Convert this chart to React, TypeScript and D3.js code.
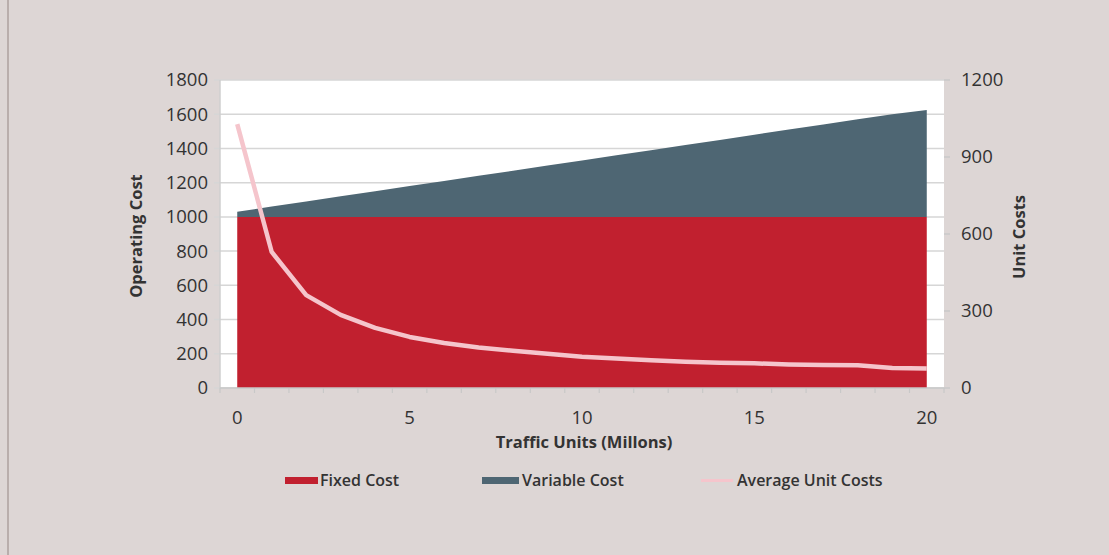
import React from "react";
import * as d3 from "d3";

const trafficUnits = [0, 1, 2, 3, 4, 5, 6, 7, 8, 9, 10, 11, 12, 13, 14, 15, 16, 17, 18, 19, 20];
const fixedCost = [1000, 1000, 1000, 1000, 1000, 1000, 1000, 1000, 1000, 1000, 1000, 1000, 1000, 1000, 1000, 1000, 1000, 1000, 1000, 1000, 1000];
const variableCost = [30, 60, 90, 120, 150, 180, 210, 240, 270, 300, 330, 360, 390, 420, 450, 480, 510, 540, 570, 600, 625];
const averageUnitCost = [1028, 530, 362, 285, 234, 199, 175, 158, 145, 133, 122, 115, 108, 102, 98, 96, 92, 90, 89, 78, 76];
const leftTicks = [0, 200, 400, 600, 800, 1000, 1200, 1400, 1600, 1800];
const rightTicks = [0, 300, 600, 900, 1200];
const xTicks = [0, 5, 10, 15, 20];

const W = 1109;
const H = 555;
const plot = { left: 220, right: 944, top: 80, bottom: 388 };
const FONT = "'Open Sans', 'Noto Sans', sans-serif";
const RED = "#c1202f";
const SLATE = "#4e6673";
const PINK = "#f5c5cc";

export default function App() {
  const x = d3.scaleLinear().domain([-0.5, 20.5]).range([plot.left, plot.right]);
  const yL = d3.scaleLinear().domain([0, 1800]).range([plot.bottom, plot.top]);
  const yR = d3.scaleLinear().domain([0, 1200]).range([plot.bottom, plot.top]);

  const idx = trafficUnits.map((_, i) => i);
  const fixedArea = d3
    .area<number>()
    .x((i) => x(trafficUnits[i]))
    .y0(() => yL(0))
    .y1((i) => yL(fixedCost[i]))(idx) as string;
  const varArea = d3
    .area<number>()
    .x((i) => x(trafficUnits[i]))
    .y0((i) => yL(fixedCost[i]))
    .y1((i) => yL(fixedCost[i] + variableCost[i]))(idx) as string;
  const avgLine = d3
    .line<number>()
    .x((i) => x(trafficUnits[i]))
    .y((i) => yR(averageUnitCost[i]))(idx) as string;

  const boundaries = d3.range(-0.5, 21, 1);
  const textColor = "#333333";

  return (
    <div style={{ position: "fixed", left: 0, top: 0 }}>
      <svg width={W} height={H} style={{ display: "block" }}>
        <rect x={0} y={0} width={W} height={H} fill="#ddd6d5" />
        <rect x={7} y={0} width={2} height={H} fill="#b9aeac" />
        {/* plot background */}
        <rect x={plot.left} y={plot.top} width={plot.right - plot.left} height={plot.bottom - plot.top} fill="#ffffff" />
        {leftTicks.map((t) => (
          <line key={"g" + t} x1={plot.left - 6} x2={plot.right} y1={yL(t)} y2={yL(t)} stroke="#d6d6d6" strokeWidth={1.5} />
        ))}
        {rightTicks.map((t) => (
          <line key={"rt" + t} x1={plot.right} x2={plot.right + 6} y1={yR(t)} y2={yR(t)} stroke="#c8c8c8" strokeWidth={1.5} />
        ))}
        <path d={fixedArea} fill={RED} />
        <path d={varArea} fill={SLATE} />
        <path d={avgLine} fill="none" stroke={PINK} strokeWidth={4.5} strokeLinejoin="round" />
        {/* axes */}
        <line x1={plot.left} x2={plot.left} y1={plot.top} y2={plot.bottom} stroke="#cfcfcf" strokeWidth={1.5} />
        <line x1={plot.left} x2={plot.right} y1={plot.bottom} y2={plot.bottom} stroke="#c8c8c8" strokeWidth={1.5} />
        {boundaries.map((b) => (
          <line key={"xt" + b} x1={x(b)} x2={x(b)} y1={plot.bottom} y2={plot.bottom + 5} stroke="#c8c8c8" strokeWidth={1.2} />
        ))}
        {/* left tick labels */}
        {leftTicks.map((t) => (
          <text key={"lt" + t} x={208} y={yL(t)} dy="0.35em" textAnchor="end" fontFamily={FONT} fontSize={18.5} fill={textColor}>
            {t}
          </text>
        ))}
        {rightTicks.map((t) => (
          <text key={"rl" + t} x={961} y={yR(t)} dy="0.35em" textAnchor="start" fontFamily={FONT} fontSize={18.5} fill={textColor}>
            {t}
          </text>
        ))}
        {xTicks.map((t) => (
          <text key={"xl" + t} x={x(t)} y={418} dy="0.35em" textAnchor="middle" fontFamily={FONT} fontSize={18.5} fill={textColor}>
            {t}
          </text>
        ))}
        {/* axis titles */}
        <text x={584} y={442} dy="0.35em" textAnchor="middle" fontFamily={FONT} fontSize={16.5} fontWeight="bold" fill={textColor}>
          Traffic Units (Millons)
        </text>
        <text transform={`translate(136,236) rotate(-90)`} dy="0.35em" textAnchor="middle" fontFamily={FONT} fontSize={16.5} fontWeight="bold" fill={textColor}>
          Operating Cost
        </text>
        <text transform={`translate(1019,237) rotate(-90)`} dy="0.35em" textAnchor="middle" fontFamily={FONT} fontSize={16.5} fontWeight="bold" fill={textColor}>
          Unit Costs
        </text>
        {/* legend */}
        <rect x={285} y={477} width={33} height={7} fill={RED} />
        <text x={320} y={480.5} dy="0.35em" fontFamily={FONT} fontSize={16} fontWeight={600} fill={textColor}>
          Fixed Cost
        </text>
        <rect x={482} y={477} width={37} height={7} fill={SLATE} />
        <text x={522} y={480.5} dy="0.35em" fontFamily={FONT} fontSize={16} fontWeight={600} fill={textColor}>
          Variable Cost
        </text>
        <line x1={701} x2={733} y1={480.5} y2={480.5} stroke={PINK} strokeWidth={3} />
        <text x={737} y={480.5} dy="0.35em" fontFamily={FONT} fontSize={16} fontWeight={600} fill={textColor}>
          Average Unit Costs
        </text>
      </svg>
    </div>
  );
}
